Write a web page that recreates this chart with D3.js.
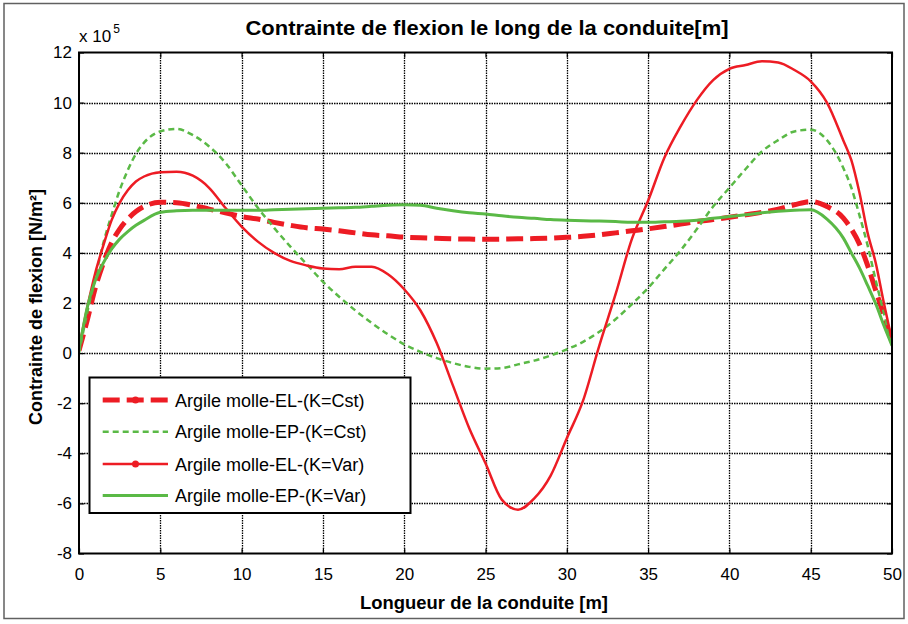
<!DOCTYPE html>
<html><head><meta charset="utf-8">
<script src="https://cdn.jsdelivr.net/npm/d3@7/dist/d3.min.js"></script>
<style>
body{margin:0;background:#fff}
svg{display:block}
text{font-family:"Liberation Sans",Arial,Helvetica,sans-serif;fill:#000}
</style>
</head><body>
<svg id="chart" width="908" height="624"></svg>
<script>
// ---- data (values in units of 1e5 N/m²) ----
const xValues = [0,0.5,1,1.5,2,2.5,3,3.5,4,5,6,7,8,9,10,11,12,13,14,15,16,17,18,19,20,21,22,23,24,25,26,27,28,29,30,31,32,33,34,35,36,37,38,39,40,41,42,43,44,45,46,47,47.5,48,48.5,49,49.5,50];
const elCst = [0.1,1.3,2.6,3.6,4.4,4.95,5.35,5.65,5.85,6.02,6.0,5.9,5.75,5.6,5.45,5.35,5.22,5.1,5.0,4.95,4.88,4.8,4.72,4.68,4.63,4.6,4.58,4.56,4.55,4.54,4.55,4.56,4.57,4.59,4.62,4.66,4.72,4.8,4.88,4.96,5.05,5.15,5.25,5.33,5.42,5.52,5.62,5.75,5.92,6.05,5.85,5.4,4.95,4.35,3.5,2.5,1.5,0.4];
const epCst = [0,1.6,3.0,4.4,5.5,6.5,7.3,7.95,8.4,8.85,8.95,8.7,8.25,7.6,6.7,5.8,5.0,4.25,3.55,2.85,2.25,1.7,1.2,0.75,0.35,0.05,-0.2,-0.4,-0.55,-0.62,-0.6,-0.45,-0.3,-0.1,0.15,0.45,0.85,1.35,1.95,2.6,3.35,4.1,4.95,5.85,6.6,7.35,8.05,8.5,8.85,8.92,8.5,7.4,6.6,5.5,4.3,2.9,1.6,0.3];
const elVar = [0.2,1.8,3.2,4.3,5.3,6.0,6.5,6.85,7.05,7.22,7.24,7.08,6.6,5.8,5.05,4.45,4.0,3.68,3.5,3.38,3.35,3.45,3.45,3.15,2.55,1.7,0.4,-1.3,-3.0,-4.4,-5.85,-6.25,-5.8,-4.9,-3.4,-1.9,0.3,2.35,4.55,6.08,7.8,9.05,10.1,10.9,11.35,11.5,11.65,11.6,11.3,10.85,10.0,8.5,7.7,6.4,4.8,3.6,2.0,0.5];
const epVar = [0.1,1.8,2.9,3.6,4.15,4.55,4.85,5.1,5.3,5.62,5.68,5.7,5.7,5.7,5.7,5.7,5.72,5.74,5.76,5.78,5.8,5.82,5.86,5.9,5.92,5.9,5.78,5.68,5.6,5.55,5.48,5.42,5.38,5.33,5.3,5.28,5.27,5.25,5.22,5.22,5.24,5.26,5.3,5.38,5.45,5.52,5.6,5.66,5.7,5.72,5.35,4.6,4.0,3.4,2.7,1.97,1.1,0.3];
const seriesNames = ["Argile molle-EL-(K=Cst)","Argile molle-EP-(K=Cst)","Argile molle-EL-(K=Var)","Argile molle-EP-(K=Var)"];
const xTicks = [0,5,10,15,20,25,30,35,40,45,50];
const yTicks = [-8,-6,-4,-2,0,2,4,6,8,10,12];
const titleText = "Contrainte de flexion le long de la conduite[m]";
const xLabelText = "Longueur de la conduite [m]";
const yLabelText = "Contrainte de flexion [N/m²]";

// ---- styles ----
const RED = "#ed1c24", GREEN = "#5ab946";
const styles = [
  {data: elCst, color: RED,   width: 5,   dash: "17,7", marker: true},
  {data: epCst, color: GREEN, width: 2.5, dash: "6,4",  marker: false},
  {data: elVar, color: RED,   width: 2.5, dash: null,   marker: true},
  {data: epVar, color: GREEN, width: 3,   dash: null,   marker: false}
];

const svg = d3.select("#chart");
const L = 79, R = 892, T = 52.5, B = 553.5;
const x = d3.scaleLinear().domain([0,50]).range([L,R]);
const y = d3.scaleLinear().domain([-8,12]).range([B,T]);

// figure border
svg.append("rect").attr("x",4).attr("y",3.5).attr("width",900).attr("height",615)
  .attr("fill","#fff").attr("stroke","#606060").attr("stroke-width",1.5);

// plot background
svg.append("rect").attr("x",L).attr("y",T).attr("width",R-L).attr("height",B-T).attr("fill","#fff");

// grid
const grid = svg.append("g").attr("stroke","#000").attr("stroke-width",1.3).attr("stroke-dasharray","1.5,1");
xTicks.slice(1,-1).forEach(v => grid.append("line").attr("x1",Math.round(x(v))+0.5).attr("x2",Math.round(x(v))+0.5).attr("y1",T).attr("y2",B));
yTicks.slice(1,-1).forEach(v => grid.append("line").attr("y1",Math.round(y(v))+0.5).attr("y2",Math.round(y(v))+0.5).attr("x1",L).attr("x2",R));

// axes with inward ticks on all sides
const tl = 5;
const fmt = d => String(d);
const gB = svg.append("g").attr("transform",`translate(0,${B})`)
  .call(d3.axisBottom(x).tickValues(xTicks).tickFormat(fmt).tickSizeInner(-tl).tickSizeOuter(0).tickPadding(17));
const gT = svg.append("g").attr("transform",`translate(0,${T})`)
  .call(d3.axisTop(x).tickValues(xTicks).tickSizeInner(-tl).tickSizeOuter(0).tickFormat(""));
const gL = svg.append("g").attr("transform",`translate(${L},0)`)
  .call(d3.axisLeft(y).tickValues(yTicks).tickFormat(fmt).tickSizeInner(-tl).tickSizeOuter(0).tickPadding(7));
const gR = svg.append("g").attr("transform",`translate(${R},0)`)
  .call(d3.axisRight(y).tickValues(yTicks).tickSizeInner(-tl).tickSizeOuter(0).tickFormat(""));
[gB,gT,gL,gR].forEach(g => {
  g.select(".domain").remove();
  g.selectAll(".tick line").attr("stroke","#000").attr("stroke-width",1.2);
  g.selectAll("text").attr("font-size",17).attr("font-family",'"Liberation Sans",Arial,sans-serif').attr("fill","#000");
});
gB.selectAll("text").attr("y",null).attr("dy","0").attr("transform","translate(0,26.5)");

// clip + lines
svg.append("clipPath").attr("id","clip").append("rect").attr("x",L).attr("y",T).attr("width",R-L).attr("height",B-T);
const lineGen = d3.line().x((d,i)=>x(xValues[i])).y(d=>y(d)).curve(d3.curveMonotoneX);
const lines = svg.append("g").attr("clip-path","url(#clip)");
styles.forEach(s => {
  lines.append("path").attr("d",lineGen(s.data)).attr("fill","none")
    .attr("stroke",s.color).attr("stroke-width",s.width)
    .attr("stroke-dasharray",s.dash).attr("stroke-linejoin","round");
});

// frame
svg.append("rect").attr("x",L).attr("y",T).attr("width",R-L).attr("height",B-T)
  .attr("fill","none").attr("stroke","#000").attr("stroke-width",2);

// exponent
const ex = svg.append("text").attr("x",79).attr("y",42).attr("font-size",17);
ex.append("tspan").text("x 10");
ex.append("tspan").attr("font-size",12).attr("dy",-9).attr("dx",2).text("5");

// title & labels
svg.append("text").attr("x",487).attr("y",35).attr("text-anchor","middle")
  .attr("font-size",21).attr("font-weight","bold")
  .attr("textLength",483).attr("lengthAdjust","spacingAndGlyphs").text(titleText);
svg.append("text").attr("x",484).attr("y",609).attr("text-anchor","middle")
  .attr("font-size",18).attr("font-weight","bold")
  .attr("textLength",248).attr("lengthAdjust","spacingAndGlyphs").text(xLabelText);
svg.append("text").attr("transform","translate(42,307) rotate(-90)").attr("text-anchor","middle")
  .attr("font-size",18).attr("font-weight","bold").text(yLabelText);

// legend
const lg = svg.append("g");
lg.append("rect").attr("x",89.5).attr("y",377.5).attr("width",321).attr("height",135.5)
  .attr("fill","#fff").attr("stroke","#000").attr("stroke-width",2);
const legY = [400,431.7,464,495.5];
styles.forEach((s,i) => {
  const yy = legY[i];
  lg.append("line").attr("x1",102.7).attr("x2",168).attr("y1",yy).attr("y2",yy)
    .attr("stroke",s.color).attr("stroke-width",s.width).attr("stroke-dasharray",s.dash);
  if (s.marker) lg.append("circle").attr("cx",135.5).attr("cy",yy).attr("r",3.5).attr("fill",s.color);
  lg.append("text").attr("x",175).attr("y",yy+6.5).attr("font-size",18).text(seriesNames[i]);
});
</script>
</body></html>
